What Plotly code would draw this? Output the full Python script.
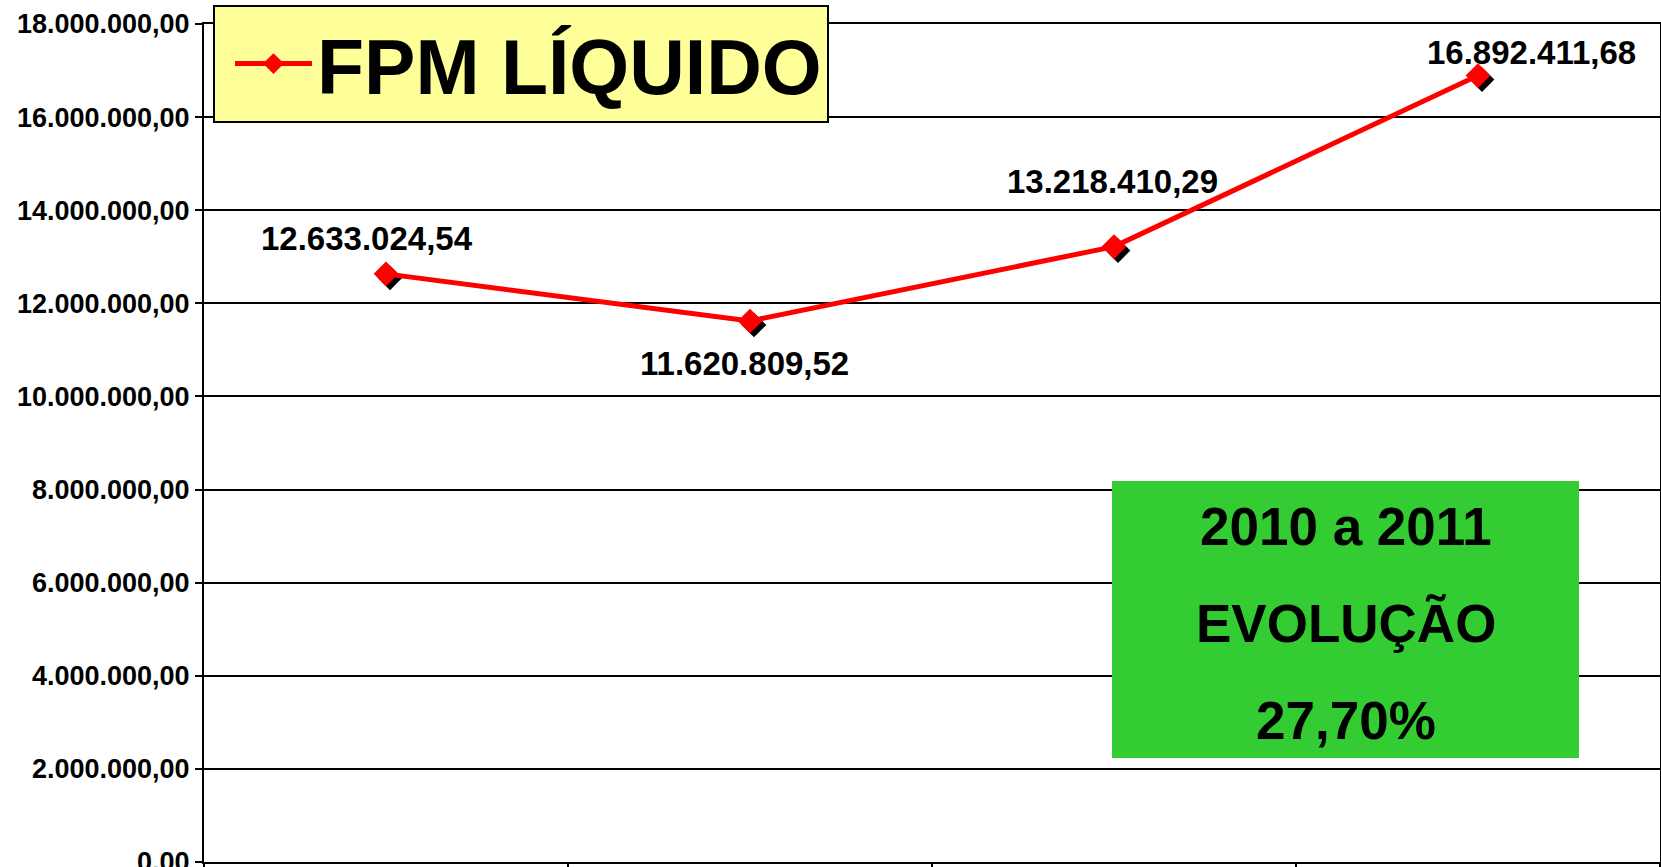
import plotly.graph_objects as go

# ---- data ----
categories = ["2008", "2009", "2010", "2011"]
values = [12633024.54, 11620809.52, 13218410.29, 16892411.68]
series_name = "FPM LÍQUIDO"
y_tick_values = [0, 2e6, 4e6, 6e6, 8e6, 10e6, 12e6, 14e6, 16e6, 18e6]
box_lines = ["2010 a 2011", "EVOLUÇÃO", "27,70%"]

# ---- label placement (pixels, style only) ----
label_xshift = [-19, -6, -2, 53]
label_yshift = [35, -43, 65, 23]

W, H = 1661, 867
ML, MR, MT, MB = 204, 1, 24, 5
PW = W - ML - MR
PH = H - MT - MB
FONT = "Arial, 'Liberation Sans', sans-serif"


def br_fmt(v):
    s = f"{v:,.2f}"
    return s.replace(",", "X").replace(".", ",").replace("X", ".")


xpos = list(range(len(categories)))
boundaries = [i - 0.5 for i in range(len(categories) + 1)]
xr = [-0.5, len(categories) - 0.5]
yr = [0, 18e6]
sh = 4  # shadow offset in px, converted to axis units
dx = sh * (xr[1] - xr[0]) / PW
dy = sh * (yr[1] - yr[0]) / PH

fig = go.Figure()

# shadow markers (drawn first, offset a few pixels down-right)
fig.add_trace(go.Scatter(
    x=[p + dx for p in xpos], y=[v - dy for v in values], mode="markers",
    marker=dict(symbol="diamond", size=19, color="black"),
    showlegend=False, hoverinfo="skip", cliponaxis=False,
))
# main series
fig.add_trace(go.Scatter(
    x=xpos, y=values, mode="lines+markers", name=series_name,
    line=dict(color="#FF0000", width=5),
    marker=dict(symbol="diamond", size=19, color="#FF0000"),
    cliponaxis=False,
))

annotations = []
for p, v, xs, ys in zip(xpos, values, label_xshift, label_yshift):
    annotations.append(dict(
        x=p, y=v, xref="x", yref="y", text=br_fmt(v), showarrow=False,
        xshift=xs, yshift=ys,
        font=dict(family=FONT, size=33, color="black", weight="bold"),
    ))

# green box text
box_x0 = (1112 - ML) / PW
box_x1 = (1579 - ML) / PW
box_y_top = (MT + PH - 481) / PH
box_y_bot = (MT + PH - 758) / PH
line_centers = [526, 623, 720]
for txt, yc in zip(box_lines, line_centers):
    annotations.append(dict(
        x=(box_x0 + box_x1) / 2, y=(MT + PH - yc) / PH, xref="paper", yref="paper",
        text=txt, showarrow=False, xanchor="center", yanchor="middle",
        font=dict(family=FONT, size=53, color="black", weight="bold"),
    ))

axis_common = dict(showline=True, linecolor="black", linewidth=2, mirror=True,
                   automargin=False)

fig.update_layout(
    width=W, height=H,
    margin=dict(l=ML, r=MR, t=MT, b=MB, pad=0, autoexpand=False),
    paper_bgcolor="white", plot_bgcolor="white",
    separators=",.",
    font=dict(family=FONT, color="black"),
    xaxis=dict(
        range=xr, tickvals=xpos, ticktext=categories, showticklabels=False,
        showgrid=False, zeroline=False, ticks="",
        minor=dict(tickvals=boundaries, ticks="outside", ticklen=9, tickwidth=2,
                   tickcolor="black", showgrid=False),
        tickfont=dict(family=FONT, size=25, color="black", weight="bold"),
        **axis_common,
    ),
    yaxis=dict(
        range=yr, tickvals=y_tick_values, tickformat=",.2f", ticksuffix="\u00a0\u2009",
        showgrid=True, gridcolor="black", gridwidth=2, zeroline=False,
        ticks="outside", ticklen=7, tickwidth=2, tickcolor="black",
        tickfont=dict(family=FONT, size=27, color="black", weight="bold"),
        ticklabeloverflow="allow",
        **axis_common,
    ),
    shapes=[dict(
        type="rect", xref="paper", yref="paper",
        x0=box_x0, x1=box_x1, y0=box_y_bot, y1=box_y_top,
        fillcolor="#33CC33", line=dict(width=0), layer="above",
    )],
    annotations=annotations,
    showlegend=True,
    legend=dict(
        x=(213 - ML) / PW, y=(MT + PH - 5) / PH, xanchor="left", yanchor="top",
        bgcolor="#FFFF99", bordercolor="black", borderwidth=2,
        font=dict(family=FONT, size=77, color="black", weight="bold"),
        itemwidth=77, indentation=15,
    ),
)

fig.write_html(
    "out.html",
    config={"displayModeBar": False},
    post_script="document.body.style.margin='0';document.body.style.overflow='hidden';",
)
